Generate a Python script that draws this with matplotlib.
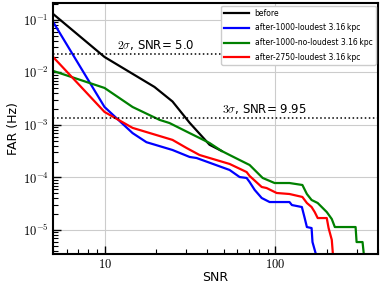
import math
import matplotlib
matplotlib.use('Agg')
import matplotlib.pyplot as plt
from matplotlib.ticker import FuncFormatter, LogLocator, NullFormatter

plt.rcParams['mathtext.fontset'] = 'cm'

# before
black_snr = [5.0, 10.0, 19.6, 25.0, 31.5, 41.2, 48.5]
black_far = [0.13, 0.0197, 0.0053, 0.0028, 0.0011, 4.2e-4, 3.2e-4]

# after-1000-loudest
blue_snr = [5.0, 10.0, 14.6, 17.6, 25.0, 31.5, 34.6, 54.0, 61.8, 67.9, 70.7, 75.7, 83.2,
            92.6, 121, 125, 143, 148, 153, 163, 165, 172, 172]
blue_far = [0.0916, 0.0022, 7.0e-4, 4.7e-4, 3.34e-4, 2.46e-4, 2.35e-4, 1.39e-4, 1.02e-4,
            9.8e-5, 8.2e-5, 5.8e-5, 4.07e-5, 3.41e-5, 3.41e-5, 2.99e-5, 2.74e-5, 1.77e-5,
            1.14e-5, 1.09e-5, 5.9e-6, 3.65e-6, 1e-6]

# after-1000-no-loudest
green_snr = [5.0, 10.0, 14.6, 21.0, 24.0, 31.5, 36.0, 41.2, 48.5, 54.0, 61.8, 70.7, 84.3,
             99, 121, 144, 153, 163, 177, 200, 214, 223, 295, 299, 324, 329, 329]
green_far = [0.0107, 0.00507, 0.0022, 1.25e-3, 1.09e-3, 7.0e-4, 5.65e-4, 4.54e-4, 3.2e-4,
             2.68e-4, 2.15e-4, 1.73e-4, 9.8e-5, 7.85e-5, 7.85e-5, 7.2e-5, 4.85e-5, 3.73e-5,
             3.27e-5, 2.2e-5, 1.62e-5, 1.14e-5, 1.14e-5, 5.9e-6, 5.9e-6, 3.65e-6, 1e-6]

# after-2750-loudest
red_snr = [5.0, 10.0, 14.6, 25.0, 30.2, 36.0, 54.0, 67.9, 70.7, 83.2, 88.9, 101.8, 121,
           144, 153, 163, 170, 177, 200, 205, 214, 217, 217]
red_far = [0.0197, 0.00177, 8.8e-4, 5.2e-4, 3.65e-4, 2.68e-4, 1.81e-4, 1.27e-4, 1.07e-4,
           6.6e-5, 6.3e-5, 5.07e-5, 4.85e-5, 4.26e-5, 3.27e-5, 2.74e-5, 2.2e-5, 1.69e-5,
           1.69e-5, 1.09e-5, 6.5e-6, 3.65e-6, 1e-6]

labels = ['before', 'after-1000-loudest 3.16\u2009kpc',
          'after-1000-no-loudest 3.16\u2009kpc', 'after-2750-loudest 3.16\u2009kpc']
sigma_far = [0.02275, 0.00135]
sigma_text = [r'$2\sigma$, SNR= 5.0', r'$3\sigma$, SNR= 9.95']
sigma_x = [11.9, 49.0]

fig = plt.figure(figsize=(3.82, 2.86), dpi=100)
ax = fig.add_axes([0.139, 0.112, 0.851, 0.8775])

ax.plot(black_snr, black_far, color='black', lw=1.6, label=labels[0])
ax.plot(blue_snr, blue_far, color='blue', lw=1.6, label=labels[1])
ax.plot(green_snr, green_far, color='green', lw=1.6, label=labels[2])
ax.plot(red_snr, red_far, color='red', lw=1.6, label=labels[3])

for f, t, x in zip(sigma_far, sigma_text, sigma_x):
    ax.axhline(f, color='black', ls=':', lw=1.1)
    ax.text(x, f * 1.08, t, fontsize=8.5, va='bottom', ha='left')

ax.set_xscale('log')
ax.set_yscale('log')
ax.set_xlim(5, 400)
ax.set_ylim(3.5e-6, 0.21)

ax.xaxis.set_major_formatter(FuncFormatter(lambda v, _: r'$%d$' % round(v)))
ax.xaxis.set_minor_formatter(NullFormatter())
ax.yaxis.set_major_locator(LogLocator(base=10, numticks=10))
ax.yaxis.set_minor_locator(LogLocator(base=10, subs=range(2, 10), numticks=20))
ax.yaxis.set_major_formatter(FuncFormatter(lambda v, _: r'$10^{%d}$' % round(math.log10(v))))
ax.yaxis.set_minor_formatter(NullFormatter())

ax.tick_params(which='both', direction='in', labelsize=9)
ax.tick_params(which='major', length=6, width=1, pad=3)
ax.tick_params(which='minor', length=3.5, width=0.8)
for s in ax.spines.values():
    s.set_linewidth(1.5)

ax.grid(True, which='major', color='#cccccc', lw=0.8)
ax.set_xlabel('SNR', fontsize=9, labelpad=0)
ax.set_ylabel('FAR (Hz)', fontsize=9, labelpad=2)

ax.legend(loc='upper right', fontsize=5.5, handlelength=3.2, labelspacing=0.75,
          borderaxespad=0.35, framealpha=1)

fig.savefig('out.png', dpi=100)
